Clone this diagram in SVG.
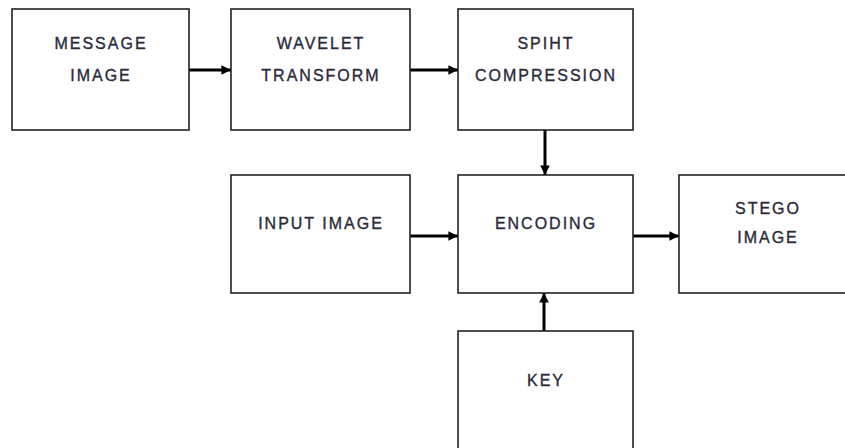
<svg xmlns="http://www.w3.org/2000/svg" width="845" height="448" viewBox="0 0 845 448">
<style>
.box{fill:#fff;stroke:#222;stroke-width:1.6}
.t{font-family:"Liberation Sans",Arial,sans-serif;font-size:16px;letter-spacing:2px;fill:#2a2a3a;stroke:#2a2a3a;stroke-width:0.35;text-anchor:middle}
.c{stroke:#000;stroke-width:3;fill:none}
</style>
<defs>
<marker id="ah" viewBox="0 0 10 10" refX="10" refY="5" markerWidth="3.6" markerHeight="3.2" orient="auto" markerUnits="strokeWidth">
<path d="M0,0 L10,5 L0,10 z" fill="#000"/>
</marker>
</defs>
<rect width="845" height="448" fill="#fff"/>
<g id="connectors">
<line class="c" x1="189" y1="70" x2="231" y2="70" marker-end="url(#ah)"/>
<line class="c" x1="410" y1="70" x2="458" y2="70" marker-end="url(#ah)"/>
<line class="c" x1="545" y1="130" x2="545" y2="175" marker-end="url(#ah)"/>
<line class="c" x1="410" y1="236" x2="458" y2="236" marker-end="url(#ah)"/>
<line class="c" x1="633" y1="236" x2="679" y2="236" marker-end="url(#ah)"/>
<line class="c" x1="544" y1="331" x2="544" y2="293" marker-end="url(#ah)"/>
</g>
<g id="message-image">
<rect class="box" x="12" y="9" width="177" height="121"/>
<text class="t" x="101" y="49">MESSAGE</text>
<text class="t" x="101" y="81">IMAGE</text>
</g>
<g id="wavelet-transform">
<rect class="box" x="231" y="9" width="179" height="121"/>
<text class="t" x="321" y="49">WAVELET</text>
<text class="t" x="321" y="81">TRANSFORM</text>
</g>
<g id="spiht-compression">
<rect class="box" x="458" y="9" width="175" height="121"/>
<text class="t" x="546" y="49">SPIHT</text>
<text class="t" x="546" y="81">COMPRESSION</text>
</g>
<g id="input-image">
<rect class="box" x="231" y="175" width="179" height="118"/>
<text class="t" x="321" y="229">INPUT IMAGE</text>
</g>
<g id="encoding">
<rect class="box" x="458" y="175" width="175" height="118"/>
<text class="t" x="546" y="229">ENCODING</text>
</g>
<g id="stego-image">
<rect class="box" x="679" y="175" width="177" height="118"/>
<text class="t" x="768" y="214">STEGO</text>
<text class="t" x="768" y="243">IMAGE</text>
</g>
<g id="key">
<rect class="box" x="458" y="331" width="175" height="125"/>
<text class="t" x="546" y="386">KEY</text>
</g>
</svg>
